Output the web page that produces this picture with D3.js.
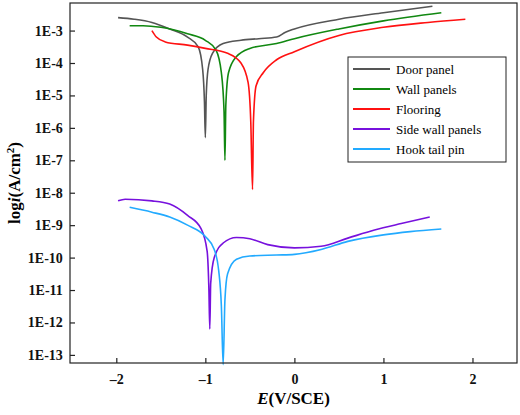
<!DOCTYPE html>
<html><head><meta charset="utf-8">
<script src="https://cdn.jsdelivr.net/npm/d3@7"></script>
<style>body{margin:0;background:#fff}text{font-family:"Liberation Serif",serif;font-weight:bold}</style>
</head><body><div id="chart"></div>
<script>
const width = 520, height = 415
const margin = {top: 3, right: 3, bottom: 52, left: 70}

const names = ["Door panel", "Wall panels", "Flooring", "Side wall panels", "Hook tail pin"]
const colors = ["#555555", "#118811", "#ff1111", "#7711dd", "#22aaff"]
// [E, log10 i]
const doorPanel = [[-1.98,-2.6],[-1.8,-2.65],[-1.6,-2.75],[-1.4,-2.95],[-1.2,-3.2],[-1.08,-3.5],[-1.03,-4.2],[-1.01,-5.2],[-1.0,-6.3],[-0.99,-5.0],[-0.97,-4.2],[-0.92,-3.7],[-0.8,-3.4],[-0.6,-3.3],[-0.4,-3.25],[-0.2,-3.2],[-0.1,-3.05],[0,-2.95],[0.5,-2.65],[1,-2.45],[1.55,-2.25]]
const wallPanels = [[-1.85,-2.85],[-1.7,-2.85],[-1.5,-2.9],[-1.2,-3.1],[-1.0,-3.3],[-0.88,-3.6],[-0.82,-4.3],[-0.79,-5.5],[-0.78,-7.0],[-0.77,-5.3],[-0.74,-4.3],[-0.65,-3.8],[-0.5,-3.55],[-0.2,-3.4],[0,-3.25],[0.5,-2.95],[1,-2.7],[1.65,-2.45]]
const flooring = [[-1.6,-3.0],[-1.55,-3.2],[-1.45,-3.35],[-1.2,-3.45],[-1.0,-3.55],[-0.75,-3.7],[-0.6,-4.0],[-0.52,-4.6],[-0.49,-5.8],[-0.47,-7.9],[-0.46,-5.8],[-0.43,-4.7],[-0.35,-4.3],[-0.2,-3.9],[0,-3.65],[0.5,-3.15],[1,-2.9],[1.5,-2.75],[1.92,-2.65]]
const sideWall = [[-1.98,-8.25],[-1.9,-8.2],[-1.6,-8.25],[-1.4,-8.35],[-1.2,-8.7],[-1.05,-9.1],[-0.98,-9.8],[-0.96,-11],[-0.95,-12.2],[-0.94,-10.8],[-0.9,-10],[-0.8,-9.55],[-0.65,-9.38],[-0.5,-9.42],[-0.3,-9.6],[0,-9.7],[0.3,-9.65],[0.6,-9.4],[0.9,-9.15],[1.2,-8.95],[1.52,-8.75]]
const hookTail = [[-1.85,-8.45],[-1.6,-8.6],[-1.4,-8.75],[-1.2,-9.0],[-1.0,-9.35],[-0.9,-9.75],[-0.85,-10.4],[-0.82,-11.5],[-0.8,-13.3],[-0.78,-11.3],[-0.75,-10.5],[-0.65,-10.05],[-0.5,-9.95],[-0.2,-9.92],[0,-9.9],[0.3,-9.75],[0.6,-9.5],[1,-9.3],[1.3,-9.2],[1.65,-9.12]]
const series = [doorPanel, wallPanels, flooring, sideWall, hookTail]
const xTicks = [-2, -1, 0, 1, 2]
const yTicks = [-3,-4,-5,-6,-7,-8,-9,-10,-11,-12,-13]

const svg = d3.select("#chart").append("svg").attr("width", width).attr("height", height)
const x = d3.scaleLinear().domain([-2.52, 2.5]).range([margin.left, width - margin.right])
const y = d3.scaleLog().domain([Math.pow(10,-13.25), Math.pow(10,-2.15)]).range([height - margin.bottom, margin.top])

const line = d3.line().curve(d3.curveMonotoneX).x(d => x(d[0])).y(d => y(Math.pow(10, d[1])))
series.forEach((s, i) => {
    svg.append("path").attr("d", line(s)).attr("fill", "none").attr("stroke", colors[i]).attr("stroke-width", 1.6)
})

svg.append("rect").attr("x", margin.left).attr("y", margin.top)
    .attr("width", width - margin.right - margin.left).attr("height", height - margin.bottom - margin.top)
    .attr("fill", "none").attr("stroke", "#222").attr("stroke-width", 1.2)

const xAxis = svg.append("g").attr("transform", `translate(0,${height - margin.bottom})`)
    .call(d3.axisBottom(x).tickValues(xTicks).tickSize(-5).tickSizeOuter(0).tickFormat(d => d < 0 ? "\u2013" + (-d) : d))
const yAxis = svg.append("g").attr("transform", `translate(${margin.left},0)`)
    .call(d3.axisLeft(y).tickValues(yTicks.map(t => Math.pow(10, t))).tickSize(-5).tickSizeOuter(0)
    .tickFormat(d => "1E" + Math.round(Math.log10(d))))
;[xAxis, yAxis].forEach(g => {
    g.select(".domain").remove()
    g.selectAll("line").attr("stroke", "#222").attr("stroke-width", 1.2)
    g.selectAll("text").style("font-size", "14px").attr("fill", "#111")
})
xAxis.selectAll("text").attr("dy", "1.3em")
yAxis.selectAll("text").attr("dx", "-0.3em")

svg.append("text").attr("x", (x(-2.52) + x(2.5)) / 2).attr("y", 404).attr("text-anchor", "middle")
    .style("font-size", "17px").html('<tspan font-style="italic">E</tspan>(V/SCE)')
svg.append("text").attr("transform", `translate(20,${(margin.top + height - margin.bottom) / 2}) rotate(-90)`)
    .attr("text-anchor", "middle").style("font-size", "17px")
    .html('log<tspan font-style="italic">i</tspan>(A/cm<tspan baseline-shift="super" font-size="11px">2</tspan>)')

const lg = svg.append("g").attr("transform", "translate(348,57)")
lg.append("rect").attr("width", 158).attr("height", 105).attr("fill", "#fff").attr("stroke", "#222")
names.forEach((n, i) => {
    const yy = 12 + i * 20
    lg.append("line").attr("x1", 5).attr("x2", 42).attr("y1", yy).attr("y2", yy).attr("stroke", colors[i]).attr("stroke-width", 1.8)
    lg.append("text").attr("x", 48).attr("y", yy + 4.5).text(n).style("font-size", "13px").style("font-weight", "normal")
})
</script></body></html>
